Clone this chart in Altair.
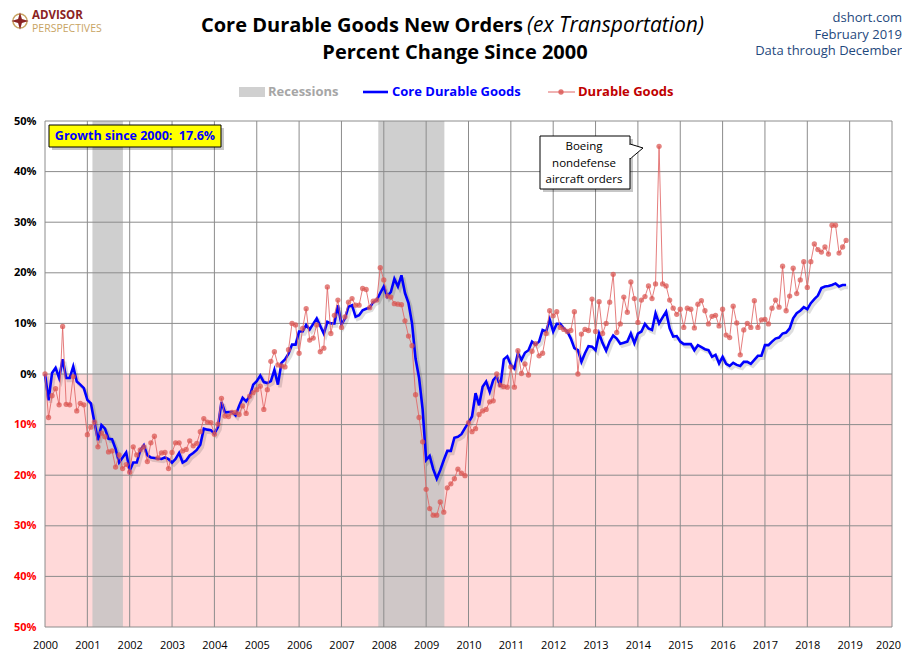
import altair as alt
import pandas as pd

# ---------------- data (percent change since Jan 2000, monthly) ----------------
core_2000 = [0.0, -5.2, 0.2, 1.2, -0.8, 2.9, -0.8, -0.8, 1.5, -1.5, -2.1, -2.8]
core_2001 = [-5.1, -5.8, -9.5, -13.1, -10.1, -10.8, -12.8, -12.9, -14.8, -17.5, -16.5, -15.5]
core_2002 = [-19.1, -17.5, -17.5, -15.1, -14.1, -16.1, -16.5, -16.6, -16.7, -16.8, -16.5, -16.8]
core_2003 = [-17.5, -16.8, -15.6, -17.5, -17.1, -16.1, -15.6, -15.0, -14.0, -10.8, -11.0, -11.1]
core_2004 = [-11.8, -10.5, -5.5, -7.6, -7.5, -7.5, -8.2, -6.3, -4.7, -5.4, -4.4, -2.1]
core_2005 = [-1.4, -0.3, -1.6, -1.8, -1.4, 0.8, -2.1, 2.2, 2.9, 4.0, 5.8, 5.8]
core_2006 = [8.4, 8.4, 9.7, 8.8, 9.9, 11.0, 9.5, 8.0, 10.3, 10.0, 10.0, 13.6]
core_2007 = [9.7, 11.0, 13.3, 13.6, 11.3, 11.6, 12.6, 12.9, 13.1, 14.2, 14.6, 16.0]
core_2008 = [17.3, 15.3, 16.2, 18.8, 17.3, 19.5, 16.0, 14.0, 10.0, 3.0, -0.8, -7.0]
core_2009 = [-17.0, -16.2, -18.8, -20.7, -19.0, -17.0, -15.2, -15.2, -12.6, -12.4, -11.9, -10.7]
core_2010 = [-9.6, -8.4, -3.8, -6.2, -2.5, -1.5, -3.5, -1.2, -0.4, -2.5, 2.9, 3.5]
core_2011 = [1.8, 1.1, 4.1, 2.8, 4.2, 4.7, 6.4, 5.8, 6.4, 8.7, 8.4, 10.8]
core_2012 = [8.4, 9.9, 9.9, 9.0, 8.4, 7.0, 5.1, 4.7, 2.4, 4.1, 5.5, 5.4]
core_2013 = [4.7, 8.0, 6.1, 4.6, 6.4, 7.6, 7.0, 6.0, 6.2, 6.4, 8.0, 6.1]
core_2014 = [8.0, 8.4, 9.9, 9.0, 8.7, 12.0, 10.0, 11.2, 12.3, 9.0, 7.4, 7.5]
core_2015 = [6.4, 5.9, 5.9, 5.9, 4.7, 5.7, 5.3, 4.9, 4.7, 3.4, 3.8, 2.1]
core_2016 = [3.4, 2.0, 1.6, 2.2, 1.8, 1.6, 2.4, 2.4, 2.0, 2.8, 3.6, 3.6]
core_2017 = [5.7, 5.7, 6.4, 7.0, 7.2, 8.0, 8.2, 9.0, 11.0, 12.0, 12.5, 13.2]
core_2018 = [12.8, 14.0, 14.8, 15.5, 17.0, 17.3, 17.4, 17.6, 17.9, 17.3, 17.6, 17.6]

dur_2000 = [0.0, -8.6, -4.3, -2.9, -6.1, 9.4, -6.0, -6.1, -0.5, -7.3, -5.8, -6.1]
dur_2001 = [-12.0, -10.5, -9.5, -14.4, -11.7, -12.4, -15.4, -15.2, -18.4, -16.0, -18.7, -17.9]
dur_2002 = [-19.4, -14.4, -16.0, -15.0, -14.4, -17.3, -13.6, -12.3, -16.6, -15.6, -15.5, -18.7]
dur_2003 = [-15.5, -13.6, -13.6, -15.2, -14.9, -13.2, -14.2, -13.7, -11.4, -8.8, -9.5, -9.6]
dur_2004 = [-11.9, -9.9, -4.8, -8.3, -8.4, -7.6, -7.6, -8.0, -6.3, -7.8, -4.4, -3.7]
dur_2005 = [-3.1, -2.4, -7.0, -3.1, 2.5, 4.4, 1.8, 1.6, 1.4, 4.8, 10.0, 9.7]
dur_2006 = [4.1, 9.0, 12.9, 6.7, 7.1, 9.7, 4.4, 5.1, 17.2, 8.0, 11.6, 14.6]
dur_2007 = [9.2, 11.3, 14.2, 14.9, 13.6, 13.6, 16.9, 16.7, 13.1, 14.4, 14.6, 21.0]
dur_2008 = [18.6, 15.4, 15.2, 13.9, 13.8, 13.7, 10.5, 7.5, 5.6, -4.1, -8.6, -13.4]
dur_2009 = [-22.8, -26.6, -27.9, -27.9, -25.3, -27.3, -22.5, -21.7, -20.7, -18.8, -19.6, -20.1]
dur_2010 = [-9.6, -11.4, -10.8, -8.0, -7.3, -7.0, -5.5, -5.3, 0.0, -2.2, -2.5, -2.6]
dur_2011 = [1.4, -2.6, 4.6, 0.1, 2.0, -0.2, 4.5, 6.0, 3.6, 4.1, 8.0, 12.5]
dur_2012 = [11.5, 12.3, 9.2, 8.8, 8.4, 8.6, 12.3, 0.0, 7.9, 8.8, 8.6, 14.8]
dur_2013 = [8.4, 14.3, 8.0, 10.0, 14.2, 19.7, 8.2, 9.9, 15.2, 12.2, 18.2, 14.9]
dur_2014 = [10.2, 14.6, 15.3, 17.4, 14.9, 17.8, 45.0, 17.8, 17.4, 14.6, 13.0, 11.8]
dur_2015 = [12.8, 9.2, 13.0, 12.8, 9.1, 13.8, 14.5, 12.5, 9.9, 11.4, 11.6, 9.5]
dur_2016 = [12.8, 7.7, 7.2, 13.4, 10.1, 3.8, 8.7, 10.0, 9.2, 14.5, 9.2, 10.7]
dur_2017 = [10.8, 9.9, 13.0, 14.6, 13.2, 21.3, 12.5, 15.4, 20.9, 15.9, 18.6, 22.2]
dur_2018 = [17.1, 22.2, 25.7, 24.6, 24.1, 25.1, 23.7, 29.4, 29.4, 23.9, 25.1, 26.4]

years = list(range(2000, 2021))
pct_ticks = list(range(-50, 51, 10))
rec_start = [2001.12, 2007.87]
rec_end = [2001.84, 2009.43]
neg_zone = [0, -50]

core = (core_2000 + core_2001 + core_2002 + core_2003 + core_2004 + core_2005 + core_2006
        + core_2007 + core_2008 + core_2009 + core_2010 + core_2011 + core_2012 + core_2013
        + core_2014 + core_2015 + core_2016 + core_2017 + core_2018)
durable = (dur_2000 + dur_2001 + dur_2002 + dur_2003 + dur_2004 + dur_2005 + dur_2006
           + dur_2007 + dur_2008 + dur_2009 + dur_2010 + dur_2011 + dur_2012 + dur_2013
           + dur_2014 + dur_2015 + dur_2016 + dur_2017 + dur_2018)
t = [2000 + i / 12 for i in range(len(core))]
series = pd.DataFrame({"t": t, "core": core, "durable": durable})

# ---------------- styling ----------------
FONT = "'Open Sans', Lato, sans-serif"
W, H = 847, 506
X0, Y0 = 45, 121  # page position of plot origin


def px(x):
    return x - X0


def py(y):
    return y - Y0


xscale = alt.Scale(domain=[2000, 2020], nice=False, zero=False)
yscale = alt.Scale(domain=[-50, 50], nice=False, zero=False)
xaxis = alt.Axis(values=years, format="d", grid=False, ticks=False, domain=False,
                 labelPadding=12, labelFont=FONT, labelFontSize=11, labelColor="#000000",
                 labelFlush=False, title=None,
                 labelOffset={"condition": {"test": "datum.value >= 2020", "value": -4}, "value": 0})
yaxis = alt.Axis(values=pct_ticks, labelExpr="abs(datum.value) + '%'", grid=False, ticks=False,
                 domain=False, labelPadding=9, labelFont=FONT, labelFontSize=11,
                 labelFontWeight="bold",
                 labelColor={"condition": {"test": "datum.value < 0", "value": "#FF0000"},
                             "value": "#000000"},
                 title=None)


def X(field):
    return alt.X(field, scale=xscale, axis=xaxis)


def Y(field):
    return alt.Y(field, scale=yscale, axis=yaxis)


one = pd.DataFrame({"k": [0]})


def txt(s, x, y, size, color="#000000", weight="normal", style="normal", align="center"):
    return alt.Chart(one).mark_text(
        text=s, align=align, baseline="middle", font=FONT, fontSize=size,
        fontWeight=weight, fontStyle=style, color=color
    ).encode(x=alt.value(px(x)), y=alt.value(py(y)))


def box(x1, x2, y1, y2, fill, stroke=None, sw=1, opacity=1.0):
    kw = dict(color=fill, opacity=opacity)
    if stroke:
        kw.update(stroke=stroke, strokeWidth=sw)
    return alt.Chart(one).mark_rect(**kw).encode(
        x=alt.value(px(x1)), x2=alt.value(px(x2)), y=alt.value(py(y1)), y2=alt.value(py(y2)))


# ---------------- layers ----------------
pink = alt.Chart(pd.DataFrame({"x1": [years[0]], "x2": [years[-1]], "y1": [neg_zone[0]], "y2": [neg_zone[1]]})
                 ).mark_rect(color="#FFD9D9").encode(x=X("x1:Q"), x2="x2:Q", y=Y("y1:Q"), y2="y2:Q")

rec = alt.Chart(pd.DataFrame({"start": rec_start, "end": rec_end})).mark_rect(
    color="#C2C2C2", opacity=0.78).encode(
    x=X("start:Q"), x2="end:Q",
    y=alt.Y(datum=pct_ticks[-1], scale=yscale, axis=yaxis), y2=alt.Y2(datum=pct_ticks[0]))

vgrid = alt.Chart(pd.DataFrame({"year": years})).mark_rule(color="#8C8C8C", strokeWidth=1).encode(
    x=X("year:Q"))
hgrid = alt.Chart(pd.DataFrame({"pct": pct_ticks})).mark_rule(color="#8C8C8C", strokeWidth=1).encode(
    y=Y("pct:Q"))

base = alt.Chart(series)
blue_shadow = base.mark_line(color="#000000", opacity=0.13, strokeWidth=3.5, xOffset=2, yOffset=2.5).encode(
    x=X("t:Q"), y=Y("core:Q"))
blue = base.mark_line(color="#0000FF", strokeWidth=2.6).encode(x=X("t:Q"), y=Y("core:Q"))
red_line = base.mark_line(color="#E06666", strokeWidth=1, opacity=0.85).encode(x=X("t:Q"), y=Y("durable:Q"))
red_pts = base.mark_circle(color="#D9534F", size=28, opacity=0.72).encode(x=X("t:Q"), y=Y("durable:Q"))

# growth box
growth = [
    box(52, 224, 128, 150, "#000000", opacity=0.22),
    box(49, 221, 125, 147, "#FFFF00", stroke="#000000"),
    txt("Growth since 2000:\u00a0 17.6%", 135, 136, 12.5, color="#0000FF", weight="bold"),
]

# Boeing callout
pointer_path = "M -0.867 -1 L 0.867 -0.467 L -0.867 1"
boeing = [
    box(543, 633, 139, 192, "#000000", opacity=0.22),
    box(540, 630, 136, 189, "#FFFFFF", stroke="#000000"),
    alt.Chart(one).mark_point(shape=pointer_path, size=225, filled=True, fill="#FFFFFF",
                              stroke="#000000", strokeWidth=1, opacity=1).encode(
        x=alt.value(px(636.5)), y=alt.value(py(151.5))),
    alt.Chart(one).mark_rule(color="#FFFFFF", strokeWidth=2.5).encode(
        x=alt.value(px(630)), y=alt.value(py(145)), y2=alt.value(py(158))),
    txt("Boeing", 584, 147, 11.5),
    txt("nondefense", 584, 164, 11.5),
    txt("aircraft orders", 584, 180, 11.5),
]

# legend
legend = [
    box(239, 265, 87, 97, "#D0D0D0"),
    txt("Recessions", 268, 92, 13, color="#A6A6A6", weight="bold", align="left"),
    alt.Chart(one).mark_rule(color="#0000FF", strokeWidth=2.6).encode(
        x=alt.value(px(363)), x2=alt.value(px(388)), y=alt.value(py(92))),
    txt("Core Durable Goods", 392, 92, 13, color="#0000FF", weight="bold", align="left"),
    alt.Chart(one).mark_rule(color="#E06666", strokeWidth=1).encode(
        x=alt.value(px(548)), x2=alt.value(px(575)), y=alt.value(py(92))),
    alt.Chart(one).mark_circle(color="#D9534F", size=28, opacity=0.8).encode(
        x=alt.value(px(561)), y=alt.value(py(92))),
    txt("Durable Goods", 578, 92, 13, color="#C00000", weight="bold", align="left"),
]

# titles & header
star_path = "M 0 -1 L 0.22 -0.22 L 1 0 L 0.22 0.22 L 0 1 L -0.22 0.22 L -1 0 L -0.22 -0.22 Z"
header = [
    txt("Core Durable Goods New Orders", 523, 26, 20, weight="bold", align="right"),
    txt("(ex Transportation)", 527, 26, 21, style="italic", align="left"),
    txt("Percent Change Since 2000", 455, 53, 20, weight="bold"),
    txt("dshort.com", 902, 18, 13, color="#1F497D", align="right"),
    txt("February 2019", 902, 34.5, 13, color="#1F497D", align="right"),
    txt("Data through December", 902, 51, 13, color="#1F497D", align="right"),
    alt.Chart(one).mark_point(shape="circle", size=200, filled=False, stroke="#C8A464",
                              strokeWidth=1.5, opacity=1).encode(
        x=alt.value(px(20)), y=alt.value(py(21))),
    alt.Chart(one).mark_point(shape=star_path, size=300, filled=True, fill="#8B2323",
                              strokeWidth=0, opacity=1).encode(
        x=alt.value(px(20)), y=alt.value(py(21))),
    txt("ADVISOR", 32, 16, 11.5, color="#8B2323", weight="bold", align="left"),
    txt("PERSPECTIVES", 32, 28.5, 10.5, color="#C8A464", align="left"),
]

chart = alt.layer(
    pink, rec, vgrid, hgrid, blue_shadow, blue, red_line, red_pts,
    *growth, *boeing, *legend, *header
).properties(
    width=W, height=H,
    autosize=alt.AutoSizeParams(type="none"),
    padding={"left": 37, "top": 113, "right": 10, "bottom": 25},
    background="#FFFFFF",
).configure_view(strokeWidth=0)

chart.save("out.html", embed_options={"renderer": "svg", "actions": False})
